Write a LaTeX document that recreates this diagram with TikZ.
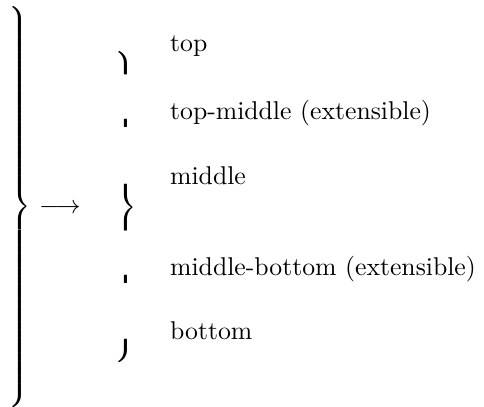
\documentclass[tikz,border=0pt]{standalone}
\font\bracex=cmex10 at 10pt
\begin{document}
\begin{tikzpicture}[x=1pt,y=1pt,
  lbl/.style={anchor=base west, inner sep=0pt},
  piece/.style={anchor=base west, inner sep=0pt, font=\bracex}]
\useasboundingbox (0,0) rectangle (188.3,-158);
\node[inner sep=0pt, anchor=west] (big) at (1.76,-80.5)
  {$\delimiterfactor=1000 \delimitershortfall=0pt\left.\vcenter{\hbox{\vrule height 152pt width 0pt}}\right\}$};
\node[inner sep=0pt, anchor=base] (arrow) at (23.3,-83) {$\longrightarrow$};
\node[piece] (p1) at (44.4,-20.2) {\char"39};
\node[piece] (p2) at (44.4,-46.3) {\char"3E};
\node[piece] (p3) at (44.4,-71.6) {\char"3D};
\node[piece] (p4) at (44.4,-107.0) {\char"3E};
\node[piece] (p5) at (44.4,-131.9) {\char"3B};
\node[lbl] (t1) at (66,-20.2) {top};
\node[lbl] (t2) at (66,-46.3) {top-middle (extensible)};
\node[lbl] (t3) at (66,-71.6) {middle};
\node[lbl] (t4) at (66,-107.0) {middle-bottom (extensible)};
\node[lbl] (t5) at (66,-131.9) {bottom};
\end{tikzpicture}
\end{document}
